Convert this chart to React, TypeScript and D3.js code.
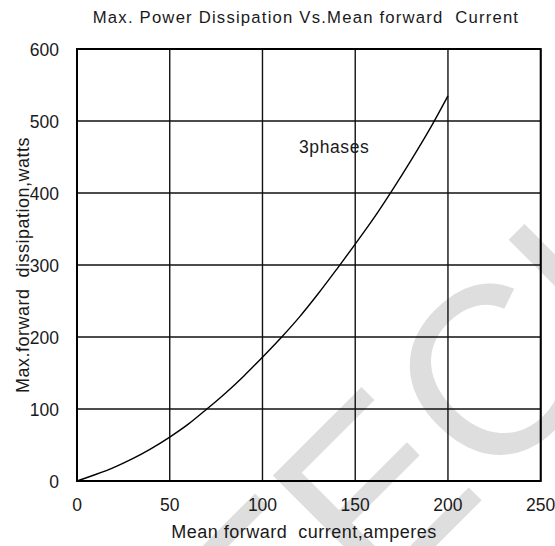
import React from "react";
import * as d3 from "d3";

const current = [0, 10, 20, 30, 40, 50, 60, 70, 80, 90, 100, 110, 120, 130, 140, 150, 160, 170, 180, 190, 200];
const power = [0, 9, 19, 31, 45, 61, 79, 100, 122, 146, 172, 199, 228, 260, 294, 329, 365, 404, 445, 488, 535];
const xTicks = [0, 50, 100, 150, 200, 250];
const yTicks = [0, 100, 200, 300, 400, 500, 600];
const title = "Max. Power Dissipation Vs.Mean forward  Current";
const xTitle = "Mean forward  current,amperes";
const yTitle = "Max.forward  dissipation,watts";
const curveLabel = "3phases";
const watermark = "TECH";

const W = 555;
const H = 546;
const FONT = "'Liberation Sans', Arial, sans-serif";
const pre = { whiteSpace: "pre" as const };

export default function App() {
  const x = d3.scaleLinear().domain([0, 250]).range([77, 540.7]);
  const y = d3.scaleLinear().domain([0, 600]).range([481, 49]);
  const pts = current.map((c, i) => [c, power[i]] as [number, number]);
  const line = d3
    .line<[number, number]>()
    .x((d) => x(d[0]))
    .y((d) => y(d[1]))
    .curve(d3.curveCatmullRom.alpha(0.5));

  return (
    <svg
      width={W}
      height={H}
      style={{ position: "absolute", left: 0, top: 0, background: "#fff" }}
      fontFamily={FONT}
    >
      <defs>
        <clipPath id="clipAll">
          <rect x={0} y={0} width={W} height={H} />
        </clipPath>
      </defs>
      <rect x={0} y={0} width={W} height={H} fill="#fff" />
      {/* watermark */}
      <g clipPath="url(#clipAll)">
        <text transform="translate(272,710) rotate(-45)" fontSize={240} fill="#dedede" fontFamily={FONT}>
          {watermark}
        </text>
      </g>
      {/* grid */}
      {xTicks.map((t) => (
        <line key={"gx" + t} x1={x(t)} x2={x(t)} y1={y(0)} y2={y(600)} stroke="#111" strokeWidth={1.4} />
      ))}
      {yTicks.map((t) => (
        <line key={"gy" + t} x1={x(0)} x2={x(250)} y1={y(t)} y2={y(t)} stroke="#111" strokeWidth={1.4} />
      ))}
      <rect x={x(0)} y={y(600)} width={x(250) - x(0)} height={y(0) - y(600)} fill="none" stroke="#000" strokeWidth={2} />
      {/* curve */}
      <path d={line(pts) || ""} fill="none" stroke="#000" strokeWidth={1.4} />
      <text x={299} y={153} fontSize={17.5} letterSpacing={0.6} fill="#1a1a1a">
        {curveLabel}
      </text>
      {/* ticks */}
      {xTicks.map((t) => (
        <text key={"tx" + t} x={x(t)} y={511} fontSize={17.5} textAnchor="middle" fill="#1a1a1a">
          {t}
        </text>
      ))}
      {yTicks.map((t) => (
        <text key={"ty" + t} x={59} y={y(t) + 6.5} fontSize={17.5} textAnchor="end" fill="#1a1a1a">
          {t}
        </text>
      ))}
      {/* titles */}
      <text x={306} y={23} fontSize={16.7} letterSpacing={1.2} textAnchor="middle" fill="#1a1a1a" xmlSpace="preserve" style={pre}>
        {title}
      </text>
      <text x={304} y={538} fontSize={18} letterSpacing={0.5} textAnchor="middle" fill="#1a1a1a" xmlSpace="preserve" style={pre}>
        {xTitle}
      </text>
      <text
        transform={`translate(29,${(y(0) + y(600)) / 2}) rotate(-90)`}
        fontSize={18}
        letterSpacing={0.5}
        textAnchor="middle"
        fill="#1a1a1a"
        xmlSpace="preserve"
        style={pre}
      >
        {yTitle}
      </text>
    </svg>
  );
}
